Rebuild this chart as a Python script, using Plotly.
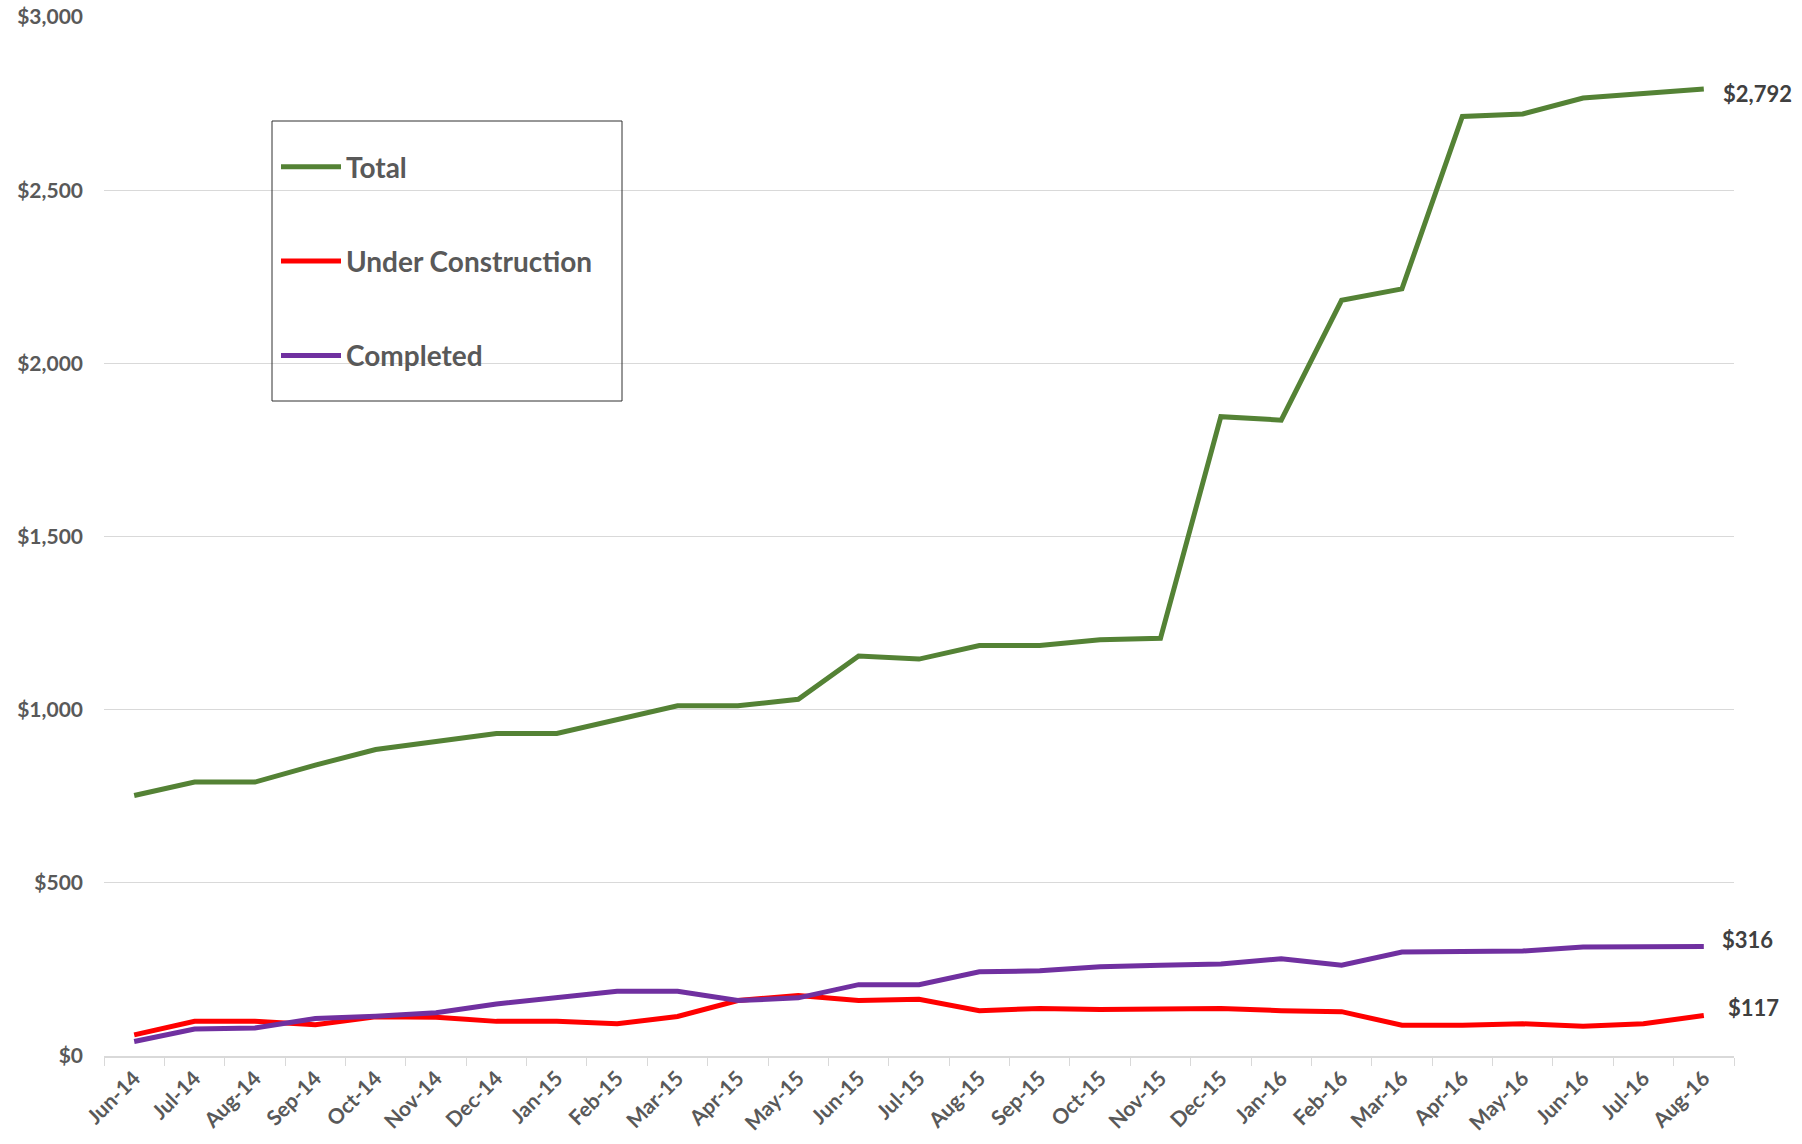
import plotly.graph_objects as go

months = ["Jun-14", "Jul-14", "Aug-14", "Sep-14", "Oct-14", "Nov-14", "Dec-14",
          "Jan-15", "Feb-15", "Mar-15", "Apr-15", "May-15", "Jun-15", "Jul-15",
          "Aug-15", "Sep-15", "Oct-15", "Nov-15", "Dec-15", "Jan-16", "Feb-16",
          "Mar-16", "Apr-16", "May-16", "Jun-16", "Jul-16", "Aug-16"]

total = [752, 791, 791, 840, 885, 907, 931, 931, 970, 1011, 1011, 1030, 1155, 1146,
         1185, 1185, 1202, 1206, 1846, 1836, 2182, 2215, 2713, 2720, 2766, 2778, 2792]

under_construction = [61, 100, 100, 90, 113, 112, 100, 100, 93, 114, 160, 175, 160, 164,
                      131, 137, 134, 134, 137, 131, 128, 89, 89, 93, 86, 93, 117]

completed = [42, 78, 81, 108, 115, 125, 150, 168, 187, 187, 160, 168, 206, 206,
             243, 246, 258, 262, 266, 281, 262, 300, 300, 303, 315, 315, 316]

series = [
    ("Total", total, "#548235", 17, -4),
    ("Under Construction", under_construction, "#FF0000", 22, 8),
    ("Completed", completed, "#7030A0", 16, 7),
]

FONT = "Lato"
GREY = "#595959"

W, H = 1802, 1144
L, R, T, B = 104, 68, 17, 88
PW, PH = W - L - R, H - T - B


def px_x(x):  # window x -> paper fraction
    return (x - L) / PW


def px_y(y):  # window y -> paper fraction
    return (H - B - y) / PH


fig = go.Figure()
for i, (name, vals, color, xs, ys) in enumerate(series):
    fig.add_trace(go.Scatter(
        x=months, y=vals, name=name, mode="lines",
        line=dict(color=color, width=5),
        legendgroup=f"g{i}",
    ))
    fig.add_annotation(
        x=months[-1], y=vals[-1], text="${:,}".format(vals[-1]),
        xanchor="left", yanchor="middle", xshift=xs, yshift=ys, showarrow=False,
        font=dict(family=FONT, size=22, color="#404040", weight="bold"),
    )

# legend frame
fig.add_shape(type="rect", xref="paper", yref="paper",
              x0=px_x(272), x1=px_x(622), y0=px_y(401), y1=px_y(121),
              line=dict(color="#303030", width=1), fillcolor="rgba(0,0,0,0)")

fig.update_layout(
    width=W, height=H,
    margin=dict(l=L, r=R, t=T, b=B),
    paper_bgcolor="white", plot_bgcolor="white",
    font=dict(family=FONT, color=GREY),
    showlegend=True,
    legend=dict(
        x=px_x(276), y=px_y(142),
        xanchor="left", yanchor="top",
        bgcolor="rgba(0,0,0,0)", borderwidth=0,
        font=dict(family=FONT, size=28, color=GREY, weight="bold"),
        traceorder="grouped", tracegroupgap=55,
        itemwidth=60,
    ),
    xaxis=dict(
        type="category", range=[-0.5, 26.5],
        showgrid=False, showline=True, linecolor="#d9d9d9", linewidth=1.5,
        ticks="outside", tickson="boundaries", ticklen=8, tickcolor="#d9d9d9",
        tickangle=-45, automargin=False,
        tickfont=dict(family=FONT, size=21, color=GREY, weight="bold"),
    ),
    yaxis=dict(
        range=[0, 3000], dtick=500, tickprefix="$", tickformat=",",
        showgrid=True, gridcolor="#d9d9d9", gridwidth=1,
        zeroline=False, showline=False, automargin=False,
        ticklabelstandoff=20, ticklabeloverflow="allow",
        tickfont=dict(family=FONT, size=21, color=GREY, weight="bold"),
    ),
)

fig.write_html("out.html", config={"displayModeBar": False},
               post_script="document.body.style.margin='0';")
